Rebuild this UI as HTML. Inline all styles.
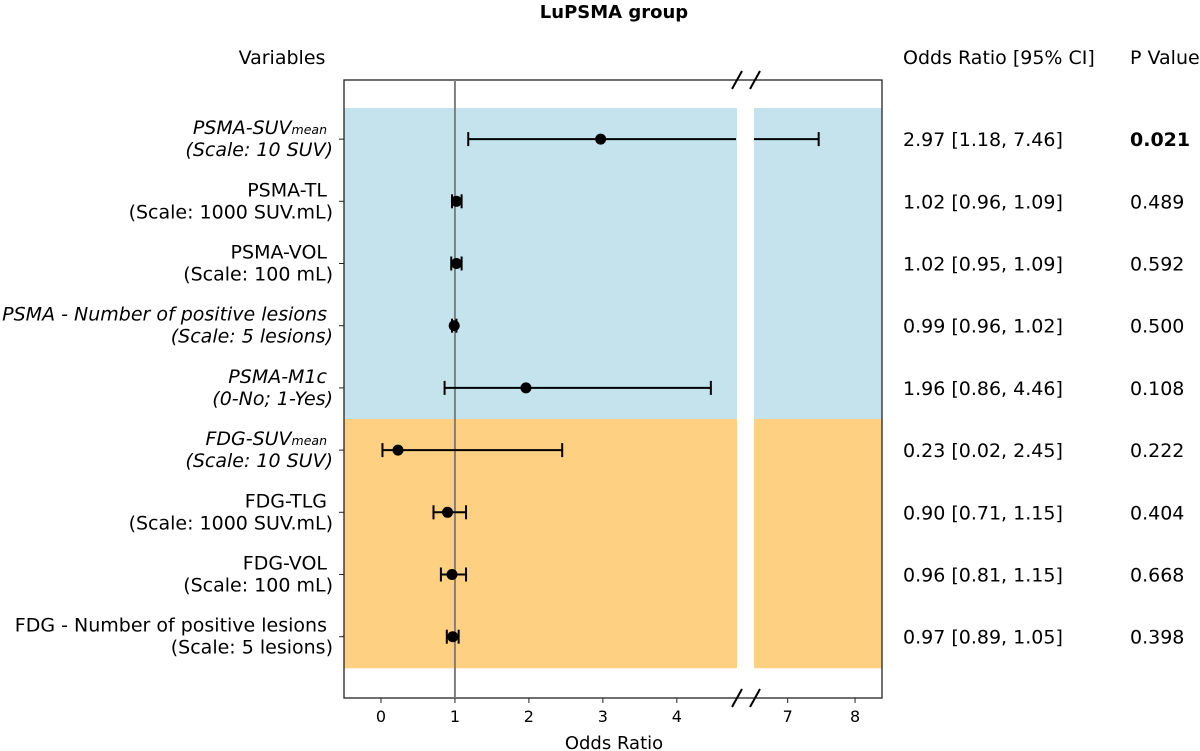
<!DOCTYPE html>
<html><head><meta charset="utf-8"><style>
body{margin:0;background:#fff}
svg{display:block;font-family:"DejaVu Sans","Liberation Sans",sans-serif}
</style></head><body>
<svg id="chart" width="1200" height="751" viewBox="0 0 1200 751">
<text x="614" y="18" text-anchor="middle" font-weight="bold" font-size="18">LuPSMA group</text>
<text x="282" y="64" text-anchor="middle" font-size="19">Variables</text>
<text x="903" y="64" font-size="19">Odds Ratio [95% CI]</text>
<text x="1130" y="64" font-size="19">P Value</text>
<g id="bands"></g>
<g id="marks"></g>
<g id="labels"></g>
</svg>
<script>
const names1 = ["PSMA-SUV","PSMA-TL","PSMA-VOL","PSMA - Number of positive lesions","PSMA-M1c","FDG-SUV","FDG-TLG","FDG-VOL","FDG - Number of positive lesions"];
const names2 = ["(Scale: 10 SUV)","(Scale: 1000 SUV.mL)","(Scale: 100 mL)","(Scale: 5 lesions)","(0-No; 1-Yes)","(Scale: 10 SUV)","(Scale: 1000 SUV.mL)","(Scale: 100 mL)","(Scale: 5 lesions)"];
const italicRows = [true,false,false,true,true,true,false,false,false];
const orValues = [2.97,1.02,1.02,0.99,1.96,0.23,0.90,0.96,0.97];
const ciLow = [1.18,0.96,0.95,0.96,0.86,0.02,0.71,0.81,0.89];
const ciHigh = [7.46,1.09,1.09,1.02,4.46,2.45,1.15,1.15,1.05];
const pValues = ["0.021","0.489","0.592","0.500","0.108","0.222","0.404","0.668","0.398"];
const groups = ["psma","psma","psma","psma","psma","fdg","fdg","fdg","fdg"];
const ticksLeft = [0,1,2,3,4];
const ticksRight = [7,8];

const NS="http://www.w3.org/2000/svg";
function mk(tag,attrs,parent){const e=document.createElementNS(NS,tag);for(const k in attrs)e.setAttribute(k,attrs[k]);parent.appendChild(e);return e;}
const L0=344,L1=736,R0=754,R1=882,T=80,B=698,bandTop=108,rowH=62.2;
const dL=[-0.5,4.8],dR=[6.5,8.4];
function xs(v){ if(v<=dL[1]) return L0+(v-dL[0])/(dL[1]-dL[0])*(L1-L0);
  if(v>=dR[0]) return R0+(v-dR[0])/(dR[1]-dR[0])*(R1-R0); return null;}
function ys(i){return bandTop+rowH*(i+0.5);}
const bands=document.getElementById('bands'),marks=document.getElementById('marks'),labels=document.getElementById('labels');
const col={psma:"#c5e3ed",fdg:"#fed082"};
groups.forEach((g,i)=>{
  let r=mk('rect',{x:L0,y:ys(i)-rowH/2,width:L1-L0+1,height:rowH+0.5,fill:col[g]},bands);
  
  
  r=mk('rect',{x:R0,y:ys(i)-rowH/2,width:R1-R0,height:rowH+0.5,fill:col[g]},bands);
  
  
});
let fr=mk('rect',{x:L0,y:T,width:R1-L0,height:B-T,fill:'none',stroke:'#222','stroke-width':1.3},marks);


[[737,T],[755,T],[737,B],[755,B]].forEach(p=>{
  const l=mk('line',{x1:p[0]-5,y1:p[1]+9,x2:p[0]+5,y2:p[1]-9,stroke:'#000','stroke-width':2},marks);
  
  
});
let ref=mk('line',{x1:xs(1),y1:T,x2:xs(1),y2:B,stroke:'#808080','stroke-width':2},marks);


ticksLeft.concat(ticksRight).forEach(t=>{
  const x=xs(t);
  const l=mk('line',{x1:x,y1:B,x2:x,y2:B+5,stroke:'#222','stroke-width':1},marks);
  
  
  const tx=mk('text',{x:x,y:B+24,'text-anchor':'middle','font-size':16},marks);
  tx.textContent=t;
  
  
});
let xt=mk('text',{x:614,y:749,'text-anchor':'middle','font-size':18},marks);
xt.textContent="Odds Ratio";


function seg(a,b,y){
  const parts=[];
  const lo=Math.max(a,dL[0]),hi=Math.min(b,dL[1]);
  if(hi>lo) parts.push([xs(lo),xs(hi)]);
  const lo2=Math.max(a,dR[0]),hi2=Math.min(b,dR[1]);
  if(hi2>lo2) parts.push([xs(lo2),xs(hi2)]);
  parts.forEach(p=>{const l=mk('line',{x1:p[0],y1:y,x2:p[1],y2:y,stroke:'#000','stroke-width':2},marks);
    
    });
}
orValues.forEach((v,i)=>{
  const y=ys(i);
  seg(ciLow[i],ciHigh[i],y);
  [ciLow[i],ciHigh[i]].forEach(c=>{const x=xs(c); if(x===null)return;
    const l=mk('line',{x1:x,y1:y-7,x2:x,y2:y+7,stroke:'#000','stroke-width':2},marks);
    
    });
  const c=mk('circle',{cx:xs(v),cy:y,r:5.5,fill:'#000'},marks);
  
  
  const tk=mk('line',{x1:L0-5,y1:y,x2:L0,y2:y,stroke:'#222','stroke-width':1},marks);
  
  
  const st=italicRows[i]?'italic':'normal';
  const t1=mk('text',{x:327,y:y-5,'text-anchor':'end','font-size':19,'font-style':st},labels);
  t1.textContent=names1[i];
  if(i===0||i===5){const s=mk('tspan',{'font-size':12.5},t1);s.textContent='mean';}
  
  
  const t2=mk('text',{x:333,y:y+17,'text-anchor':'end','font-size':19,'font-style':st},labels);
  t2.textContent=names2[i];
  
  
  const t3=mk('text',{x:903,y:y+7,'font-size':19},labels);
  t3.textContent=v.toFixed(2)+" ["+ciLow[i].toFixed(2)+", "+ciHigh[i].toFixed(2)+"]";
  
  
  const t4=mk('text',{x:1130,y:y+7,'font-size':19,'font-weight':parseFloat(pValues[i])<0.05?'bold':'normal'},labels);
  t4.textContent=pValues[i];
  
  
});
</script>
</body></html>
